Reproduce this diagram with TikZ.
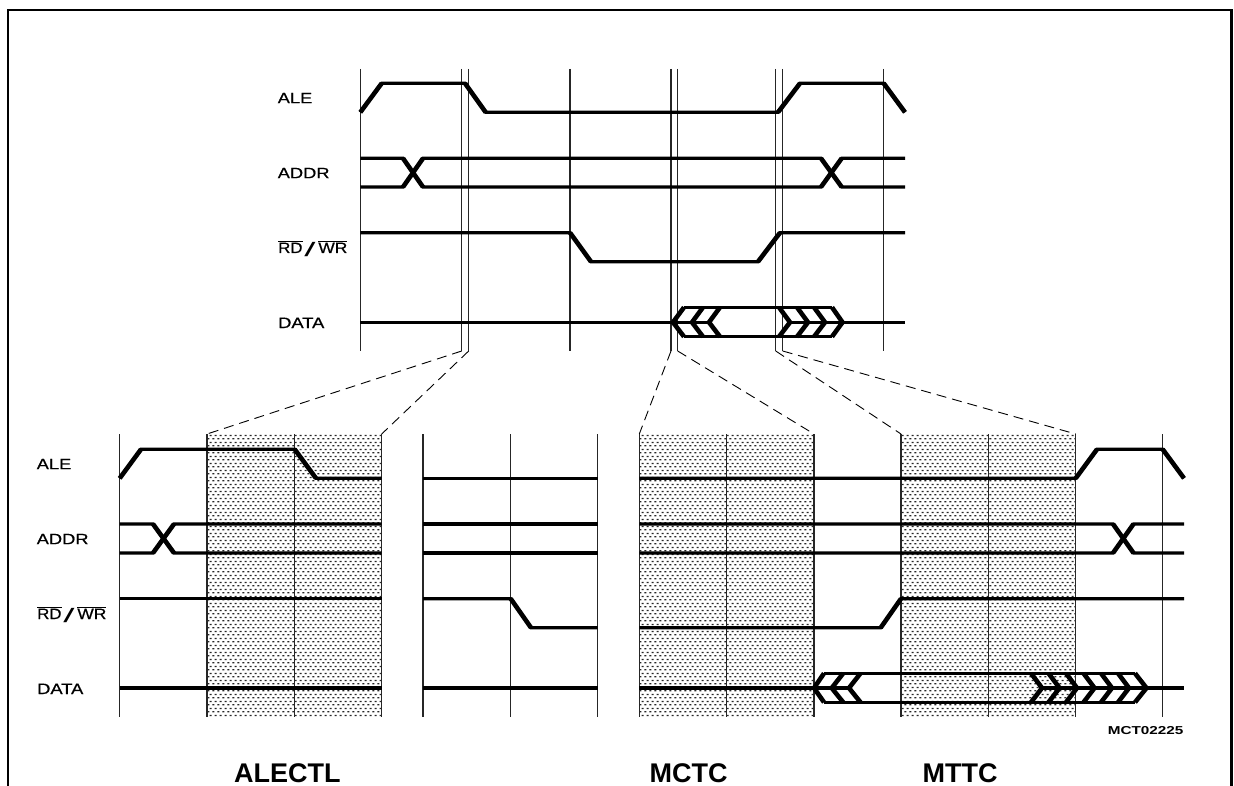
\documentclass[tikz,border=0pt]{standalone}
\usepackage{fontspec}
\setmainfont{Liberation Sans}
\newfontfamily\wavefont[FakeBold=0.5]{Liberation Sans}
\usetikzlibrary{patterns}
\pgfdeclarepatternformonly{stip}{\pgfqpoint{0pt}{0pt}}{\pgfqpoint{5.2pt}{6.6pt}}{\pgfqpoint{5.2pt}{6.6pt}}{%
  \pgfpathrectangle{\pgfqpoint{0.5pt}{0.7pt}}{\pgfqpoint{2.2pt}{1.4pt}}%
  \pgfpathrectangle{\pgfqpoint{3.1pt}{4pt}}{\pgfqpoint{2.2pt}{1.4pt}}%
  \pgfusepath{fill}}
\tikzset{
  sig/.style={line width=3.2pt,black,miter limit=10},
  slope/.style={line width=4.6pt,black},
  vline/.style={line width=1.1pt,black!85},
  dash link/.style={line width=0.9pt,black,dash pattern=on 10pt off 6pt},
  frame line/.style={line width=2.2pt,black},
  shade zone/.style={pattern=stip,pattern color=black!85},
  wave label/.style={anchor=base west,inner sep=0pt,font=\fontsize{15}{15}\selectfont\wavefont,xscale=1.22,transform shape},
  code label/.style={anchor=base west,inner sep=0pt,font=\fontsize{11.5}{12}\selectfont\bfseries,xscale=1.33,transform shape},
  big label/.style={anchor=base west,inner sep=0pt,font=\fontsize{27}{27}\selectfont\bfseries}
}
\begin{document}
\begin{tikzpicture}[x=1pt,y=-1pt]
\fill[white] (0,0) rectangle (1234,786);
\useasboundingbox (0,0) rectangle (1234,786);
% frame
\draw[frame line] (8,786) -- (8,10) -- (1231.5,10) -- (1231.5,786);
% shaded zones
\fill[shade zone] (207,434) rectangle (381.7,716.7);
\fill[shade zone] (639.3,434) rectangle (814,716.7);
\fill[shade zone] (901,434) rectangle (1075.7,716.7);
% top verticals
\foreach \n/\x in {a/360.3,b/461.7,c/468.7,d/570,e/671,f/677.7,g/775.7,h/782.7,i/883.7}{
  \coordinate (t\n) at (\x,351);
  \draw[vline] (\x,69) -- (t\n);
}
% bottom verticals
\foreach \n/\x in {a/119.7,b/207,c/294.7,d/381.7,e/423,f/510.7,g/597.7,h/639.3,i/726.7,j/814,k/901,l/988.3,m/1075.7,n/1162.7}{
  \coordinate (b\n) at (\x,434);
  \draw[vline] (b\n) -- (\x,716.7);
}
% dashed links
\draw[dash link] (tb) -- (bb);
\draw[dash link] (tc) -- (bd);
\draw[dash link] (te) -- (bh);
\draw[dash link] (tf) -- (bj);
\draw[dash link] (tg) -- (bk);
\draw[dash link] (th) -- (bm);
% top signals
\draw[sig] (360.3,112.3) -- (381.7,83.3) -- (465,83.3) -- (485.7,112.3) -- (778,112.3) -- (800,83.3) -- (883.7,83.3) -- (905,112.3);
\draw[sig] (360.3,158.3) -- (403,158.3) -- (423,187) -- (821,187) -- (841.7,158.3) -- (905,158.3);
\draw[sig] (360.3,187) -- (403,187) -- (423,158.3) -- (821,158.3) -- (841.7,187) -- (905,187);
\draw[sig] (360.3,232.7) -- (570,232.7) -- (591,261.7) -- (758,261.7) -- (780,232.7) -- (905,232.7);
\draw[sig] (360.3,322.3) -- (709,322.3);
\draw[sig] (790,322.3) -- (905,322.3);
\draw[sig] (684,307.3) -- (832,307.3);
\draw[sig] (684,336.7) -- (832,336.7);
\draw[slope] (684,307.3) -- (673,322.3) -- (684,336.7);
\draw[slope] (832,307.3) -- (842.5,322.3) -- (832,336.7);
\foreach \x in {692,709}{\draw[slope] (\x+11,307.3) -- (\x,322.3) -- (\x+11,336.7);}
\foreach \x in {779,797,814}{\draw[slope] (\x,307.3) -- (\x+11,322.3) -- (\x,336.7);}
% bottom signals: ALE
\draw[sig] (119.7,478.3) -- (141,449.3) -- (294.7,449.3) -- (316,478.3) -- (381.7,478.3);
\draw[sig] (423,478.3) -- (597.7,478.3);
\draw[sig] (639.3,478.3) -- (1075.7,478.3) -- (1097,449.3) -- (1162.7,449.3) -- (1184,478.3);
% ADDR
\draw[sig] (119.7,524) -- (153,524) -- (174,553) -- (381.7,553);
\draw[sig] (119.7,553) -- (153,553) -- (174,524) -- (381.7,524);
\draw[sig] (423,524) -- (597.7,524);
\draw[sig] (423,553) -- (597.7,553);
\draw[sig] (639.3,524) -- (1113,524) -- (1133.5,553) -- (1184,553);
\draw[sig] (639.3,553) -- (1113,553) -- (1133.5,524) -- (1184,524);
% RD/WR
\draw[sig] (119.7,598.7) -- (381.7,598.7);
\draw[sig] (423,598.7) -- (510.7,598.7) -- (531,627.7) -- (597.7,627.7);
\draw[sig] (639.3,627.7) -- (880.7,627.7) -- (901,598.7) -- (1184,598.7);
% DATA
\draw[sig] (119.7,688) -- (381.7,688);
\draw[sig] (423,688) -- (597.7,688);
\draw[sig] (639.3,688) -- (849,688);
\draw[sig] (1042,688) -- (1184,688);
\draw[sig] (824,673.3) -- (1135,673.3);
\draw[sig] (824,702.3) -- (1135,702.3);
\draw[slope] (824,673.3) -- (814,688) -- (824,702.3);
\draw[slope] (1135,673.3) -- (1146.5,688) -- (1135,702.3);
\foreach \x in {831.7,849}{\draw[slope] (\x+11.5,673.3) -- (\x,688) -- (\x+11.5,702.3);}
\foreach \x in {1031,1048.5,1066,1083.5,1101,1118}{\draw[slope] (\x,673.3) -- (\x+11,688) -- (\x,702.3);}
% thicker slanted edges of the waveforms
\foreach \xa/\ya/\xb/\yb in {
  360.3/112.3/381.7/83.3, 465/83.3/485.7/112.3, 778/112.3/800/83.3, 883.7/83.3/905/112.3,
  403/158.3/423/187, 403/187/423/158.3, 821/187/841.7/158.3, 821/158.3/841.7/187,
  570/232.7/591/261.7, 758/261.7/780/232.7,
  119.7/478.3/141/449.3, 294.7/449.3/316/478.3, 1075.7/478.3/1097/449.3, 1162.7/449.3/1184/478.3,
  153/524/174/553, 153/553/174/524, 1113/524/1133.5/553, 1113/553/1133.5/524,
  510.7/598.7/531/627.7, 880.7/627.7/901/598.7}{
  \draw[slope] (\xa,\ya) -- (\xb,\yb);
}
% labels
\newcommand{\rdwr}{$\overline{\mbox{\scalebox{.92}[1]{RD}}}$\hspace{1.4pt}\raisebox{-3.6pt}{\rmfamily\scalebox{2.2}[1.3]{/}}\hspace{2.4pt}$\overline{\mbox{\scalebox{.95}[1]{WR}}}$}
\node[wave label] (l1) at (277.5,103.2) {ALE};
\node[wave label] (l2) at (277.5,178.2) {ADDR};
\node[wave label] (l3) at (278,253) {\rdwr};
\node[wave label] (l4) at (278,328) {DATA};
\node[wave label] (l5) at (36.5,469.2) {ALE};
\node[wave label] (l6) at (36.5,544.2) {ADDR};
\node[wave label] (l7) at (37,619) {\rdwr};
\node[wave label] (l8) at (37,694) {DATA};
\node[code label] (code) at (1107.5,734) {MCT02225};
\node[big label] (alectl) at (234,782.8) {ALECTL};
\node[big label] (mctc) at (649.5,782) {MCTC};
\node[big label] (mttc) at (922.5,782.8) {MTTC};
\end{tikzpicture}
\end{document}
